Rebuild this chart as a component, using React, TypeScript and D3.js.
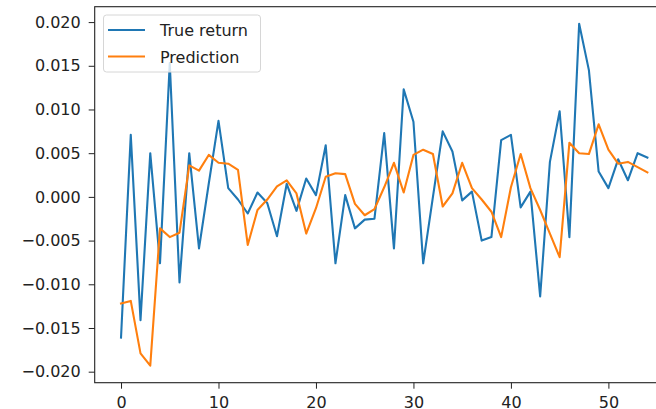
import { useEffect, useRef } from 'react'
import * as d3 from 'd3'

const xIndex = d3.range(55)

const trueReturn = [
  -0.0161, 0.0071, -0.0141, 0.0050, -0.0076, 0.0153, -0.0098, 0.0050, -0.0059, 0.0015,
  0.0087, 0.0010, -0.0003, -0.0019, 0.0005, -0.0007, -0.0045, 0.0015, -0.0016, 0.0021,
  0.0002, 0.0059, -0.0076, 0.0002, -0.0036, -0.0026, -0.0025, 0.0073, -0.0059, 0.0123,
  0.0086, -0.0076, 0.0000, 0.0075, 0.0052, -0.0004, 0.0006, -0.0050, -0.0046, 0.0065,
  0.0071, -0.0012, 0.0006, -0.0114, 0.0040, 0.0098, -0.0046, 0.0198, 0.0145, 0.0029,
  0.0010, 0.0043, 0.0019, 0.0050, 0.0045,
]

const prediction = [
  -0.0122, -0.0119, -0.0179, -0.0193, -0.0036, -0.0046, -0.0041, 0.0036, 0.0030, 0.0048,
  0.0039, 0.0038, 0.0031, -0.0055, -0.0015, -0.0003, 0.0012, 0.0019, 0.0004, -0.0042,
  -0.0013, 0.0023, 0.0027, 0.0026, -0.0008, -0.0021, -0.0014, 0.0011, 0.0039, 0.0005,
  0.0048, 0.0054, 0.0049, -0.0011, 0.0004, 0.0039, 0.0010, -0.0003, -0.0017, -0.0046,
  0.0011, 0.0049, 0.0010, -0.0015, -0.0042, -0.0069, 0.0062, 0.0050, 0.0049, 0.0083,
  0.0054, 0.0038, 0.0040, 0.0034, 0.0028,
]

const xTicks = [0, 10, 20, 30, 40, 50]
const yTicks = [-0.02, -0.015, -0.01, -0.005, 0, 0.005, 0.01, 0.015, 0.02]

const seriesList = [
  { label: 'True return', values: trueReturn, color: '#1f77b4' },
  { label: 'Prediction', values: prediction, color: '#ff7f0e' },
]

const W = 656
const H = 409
const FONT = '"DejaVu Sans", sans-serif'

export default function App() {
  const svgRef = useRef<SVGSVGElement>(null)

  useEffect(() => {
    if (!svgRef.current) return
    const svg = d3.select(svgRef.current)
    svg.selectAll('*').remove()

    const left = 94.7
    const right = 673.7
    const top = 6.7
    const bottom = 382.7

    const x = d3.scaleLinear().domain([-2.7, 56.7]).range([left, right])
    const y = d3.scaleLinear().domain([-0.02126, 0.02176]).range([bottom, top])

    // clip to the axes area
    svg.append('defs').append('clipPath').attr('id', 'plot-clip')
      .append('rect')
      .attr('x', left).attr('y', top)
      .attr('width', right - left).attr('height', bottom - top)

    const line = d3.line<number>()
      .x((_, i) => x(xIndex[i]))
      .y(d => y(d))

    seriesList.forEach(s => {
      svg.append('path')
        .datum(s.values)
        .attr('clip-path', 'url(#plot-clip)')
        .attr('fill', 'none')
        .attr('stroke', s.color)
        .attr('stroke-width', 2.1)
        .attr('stroke-linejoin', 'round')
        .attr('stroke-linecap', 'square')
        .attr('d', line)
    })

    // x axis
    const xAxis = svg.append('g')
      .attr('transform', `translate(0,${bottom})`)
      .call(d3.axisBottom(x).tickValues(xTicks).tickSize(6).tickPadding(8).tickFormat(d3.format('d')))
    xAxis.select('.domain').remove()

    // y axis
    const yAxis = svg.append('g')
      .attr('transform', `translate(${left},0)`)
      .call(d3.axisLeft(y).tickValues(yTicks).tickSize(6).tickPadding(8)
        .tickFormat(d => d3.format('.3f')(d as number).replace('-', '\u2212')))
    yAxis.select('.domain').remove()

    svg.selectAll('.tick line').attr('stroke', '#222').attr('stroke-width', 1)
    svg.selectAll('.tick text')
      .attr('fill', '#222')
      .style('font-family', FONT)
      .style('font-size', '16px')

    // spines (right one falls outside the picture)
    svg.append('rect')
      .attr('x', left).attr('y', top)
      .attr('width', right - left).attr('height', bottom - top)
      .attr('fill', 'none')
      .attr('stroke', '#222')
      .attr('stroke-width', 1.1)

    // legend
    const lg = svg.append('g')
    lg.append('rect')
      .attr('x', 103.5).attr('y', 15)
      .attr('width', 157).attr('height', 57)
      .attr('rx', 3)
      .attr('fill', 'white')
      .attr('fill-opacity', 0.8)
      .attr('stroke', '#d6d6d6')
    seriesList.forEach((s, i) => {
      const ly = 30 + i * 26.5
      lg.append('line')
        .attr('x1', 108).attr('x2', 145)
        .attr('y1', ly).attr('y2', ly)
        .attr('stroke', s.color)
        .attr('stroke-width', 2.1)
      lg.append('text')
        .attr('x', 160).attr('y', ly + 6)
        .attr('fill', '#222')
        .style('font-family', FONT)
        .style('font-size', '16px')
        .text(s.label)
    })
  }, [])

  return (
    <div style={{ position: 'absolute', left: 0, top: 0 }}>
      <svg ref={svgRef} width={W} height={H} style={{ display: 'block', background: 'white' }} />
    </div>
  )
}
